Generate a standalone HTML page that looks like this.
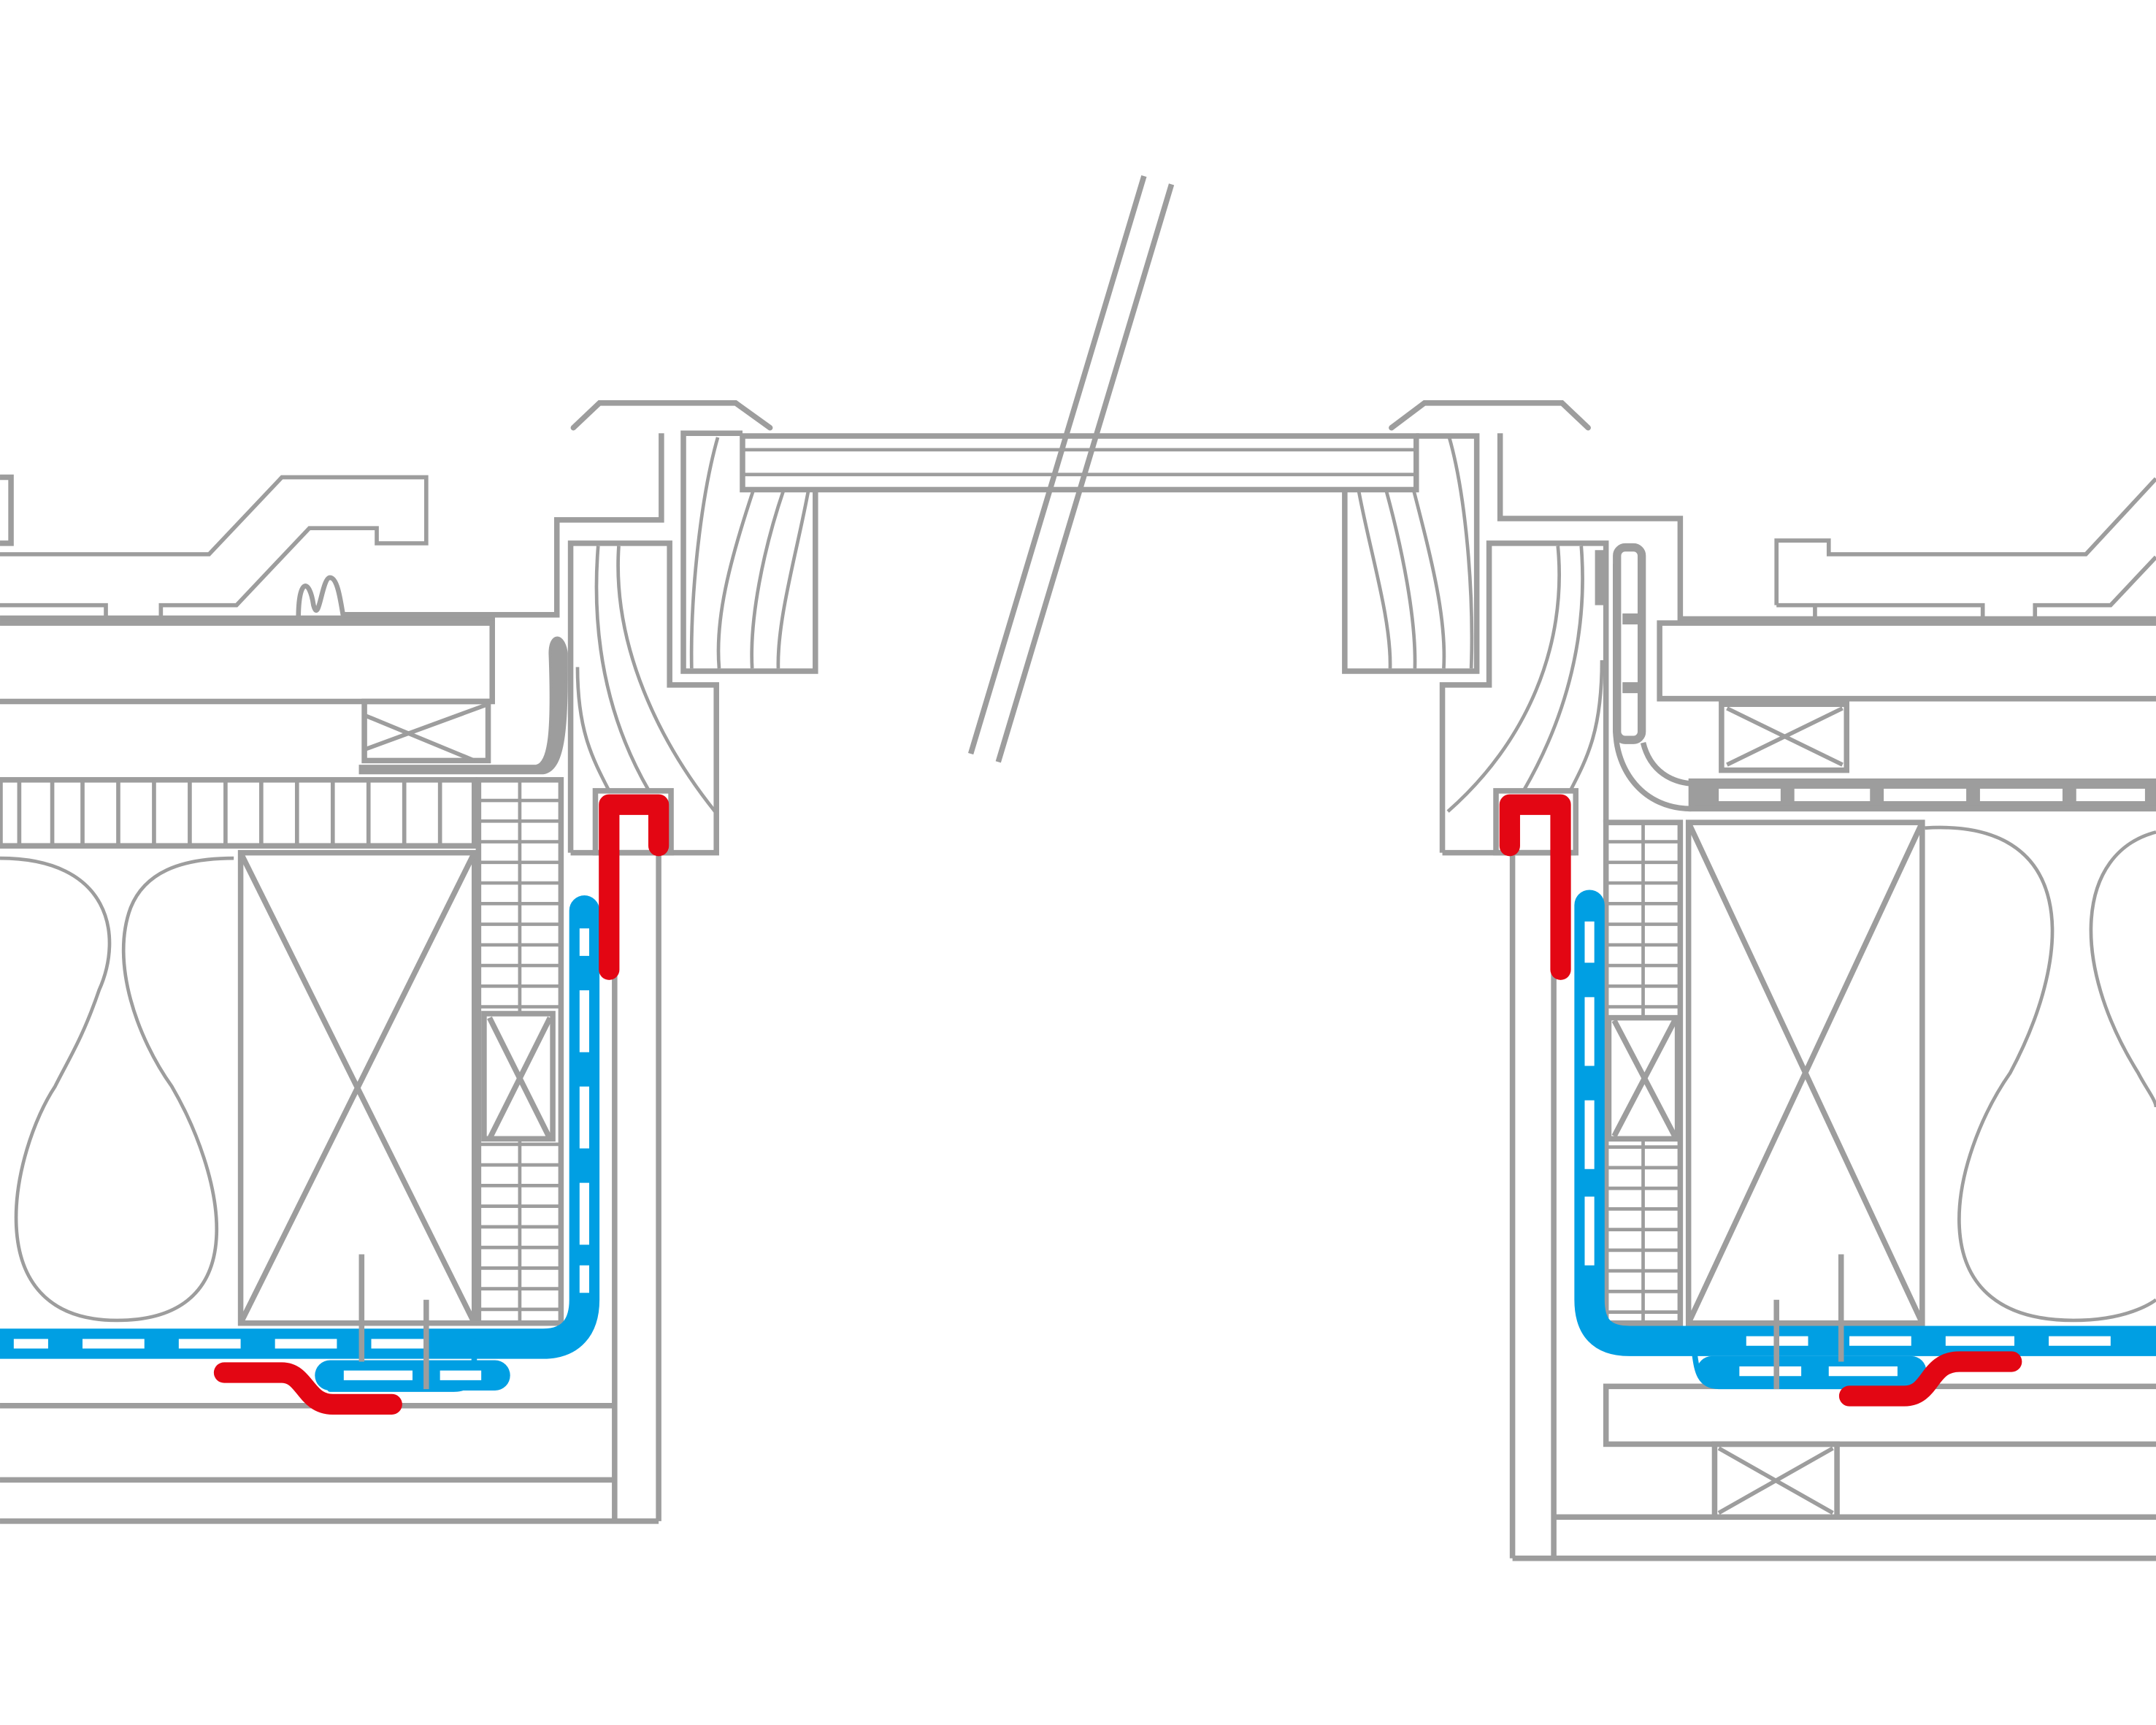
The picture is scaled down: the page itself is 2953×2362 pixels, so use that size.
<!DOCTYPE html>
<html><head><meta charset="utf-8"><style>html,body{margin:0;padding:0;background:#fff}svg{display:block}</style></head>
<body>
<svg width="2953" height="2362" viewBox="0 0 1568 1254.2" xmlns="http://www.w3.org/2000/svg">
<g fill="none" stroke="#9d9d9d" stroke-width="4" stroke-linejoin="miter">
<line x1="832" y1="128" x2="706" y2="548"/><line x1="852" y1="134" x2="726" y2="554"/>
<polyline points="417,311 436,293 535,293 560,311" stroke-linecap="round"/>
<polyline points="1012,311 1036,293 1136,293 1155,311" stroke-linecap="round"/>
<rect x="540" y="317" width="490" height="39"/>
<line x1="540" y1="327" x2="1030" y2="327" stroke-width="2.5"/><line x1="540" y1="345" x2="1030" y2="345" stroke-width="2.5"/>
<polyline points="540,315 497,315 497,488 593,488 593,356"/>
<g stroke-width="2.5"><path d="M522,318 C510,360 502,430 503,486"/><path d="M548,356 C530,410 520,450 523,486"/><path d="M570,356 C555,400 545,450 547,486"/><path d="M588,356 C580,400 565,450 566,486"/></g>
<polyline points="1030,317 1074,317 1074,488 978,488 978,356"/>
<g stroke-width="2.5"><path d="M1054,318 C1066,360 1072,430 1070,486"/><path d="M1028,356 C1042,410 1052,450 1050,486"/><path d="M1008,356 C1020,400 1030,450 1029,486"/><path d="M988,356 C996,400 1012,450 1011,486"/></g>
<polyline points="0,347 8,347 8,395 0,395"/>
<polyline points="0,403 152,403 205,347 310,347 310,395 274,395 274,384 225,384 172,440 117,440 117,450" stroke-width="3"/>
<polyline points="0,440 77,440 77,450" stroke-width="3"/>
<path d="M217,450 C217,420 225,420 228,440 C232,455 234,420 240,420 C246,420 248,440 250,450" stroke-width="3.5"/>
<line x1="0" y1="450" x2="360" y2="450" stroke-width="5"/>
<polyline points="0,453 358,453 358,510 0,510"/>
<polyline points="250,447 405,447 405,378 481,378 481,315"/>
<rect x="265" y="510" width="90" height="43"/><polyline points="265,545 355,512" stroke-width="3"/><polyline points="265,520 345,553" stroke-width="3"/>
<path d="M262,557 L390,557 C400,555 402,530 400,475 C400,460 410,460 412,475 L412,485 C412,530 410,560 395,562 L262,562 Z" fill="#9d9d9d" stroke-width="2"/>
<rect x="0" y="567" width="345" height="48"/>
<g stroke-width="3"><line x1="14" y1="567" x2="14" y2="615"/><line x1="38" y1="567" x2="38" y2="615"/><line x1="60" y1="567" x2="60" y2="615"/><line x1="86" y1="567" x2="86" y2="615"/><line x1="112" y1="567" x2="112" y2="615"/><line x1="138" y1="567" x2="138" y2="615"/><line x1="164" y1="567" x2="164" y2="615"/><line x1="190" y1="567" x2="190" y2="615"/><line x1="216" y1="567" x2="216" y2="615"/><line x1="242" y1="567" x2="242" y2="615"/><line x1="268" y1="567" x2="268" y2="615"/><line x1="294" y1="567" x2="294" y2="615"/><line x1="320" y1="567" x2="320" y2="615"/></g>
<rect x="175" y="620" width="170" height="342"/>
<line x1="175" y1="962" x2="345" y2="620"/><line x1="175" y1="620" x2="345" y2="962"/>
<path stroke-width="2.5" d="M0,624 C80,624 90,680 72,720 C60,755 50,770 40,790 C10,835 -20,960 85,960 C190,960 160,850 125,790 C100,755 80,700 95,660 C105,635 130,624 170,624"/>
<rect x="348" y="567" width="60" height="395"/>
<line x1="378" y1="567" x2="378" y2="962" stroke-width="2.5"/>
<path stroke-width="2.5" d="M348,582H408M348,597H408M348,612H408M348,627H408M348,642H408M348,657H408M348,672H408M348,687H408M348,702H408M348,717H408M348,732H408M348,832H408M348,847H408M348,862H408M348,877H408M348,892H408M348,907H408M348,922H408M348,937H408M348,952H408"/>
<rect x="352" y="737" width="50" height="91" fill="#fff"/><line x1="356" y1="828" x2="400" y2="740"/><line x1="356" y1="740" x2="400" y2="828"/>
<polyline points="415,620 415,395 487,395 487,498 521,498 521,620 415,620"/>
<g stroke-width="2.5"><path d="M435,397 C430,460 440,520 472,575"/><path d="M450,397 C445,470 480,540 520,590"/><path d="M420,485 C420,530 430,550 443,575"/></g>
<rect x="433" y="575" width="55" height="45"/>
<line x1="447" y1="620" x2="447" y2="1106"/><line x1="479" y1="600" x2="479" y2="1106"/>
<line x1="0" y1="1022" x2="447" y2="1022"/><line x1="0" y1="1076" x2="447" y2="1076"/><line x1="0" y1="1106" x2="479" y2="1106"/>
<polyline points="1292,440 1292,393 1330,393 1330,403 1517,403 1568,348" stroke-width="3"/>
<polyline points="1292,440 1442,440 1442,450" stroke-width="3"/><polyline points="1320,440 1320,450" stroke-width="3"/>
<polyline points="1480,450 1480,440 1535,440 1568,405" stroke-width="3"/>
<polyline points="1091,315 1091,377 1222,377 1222,450 1568,450"/>
<polyline points="1568,453 1207,453 1207,508 1568,508"/>
<rect x="1252" y="512" width="91" height="48"/><line x1="1256" y1="556" x2="1340" y2="515" stroke-width="3"/><line x1="1256" y1="515" x2="1340" y2="556" stroke-width="3"/>
<rect x="1230" y="568" width="340" height="20" fill="#9d9d9d"/>
<path d="M1250,578H1295M1305,578H1360M1370,578H1430M1440,578H1500M1510,578H1560" stroke="#fff" stroke-width="9"/>
<path d="M1175,410 L1175,530 C1175,560 1195,588 1230,588" stroke-width="4"/>
<rect x="1176" y="398" width="18" height="140" rx="6" stroke-width="6"/>
<line x1="1180" y1="450" x2="1192" y2="450" stroke-width="8"/><line x1="1180" y1="500" x2="1192" y2="500" stroke-width="8"/>
<path d="M1195,540 C1200,560 1215,570 1235,570" stroke-width="4"/>
<line x1="1164" y1="400" x2="1164" y2="440" stroke-width="8"/>
<polyline points="1049,620 1049,498 1083,498 1083,395 1168,395 1168,598"/>
<line x1="1049" y1="620" x2="1146" y2="620"/>
<g stroke-width="2.5"><path d="M1133,397 C1140,470 1110,540 1053,590"/><path d="M1150,397 C1155,460 1140,520 1108,575"/><path d="M1165,480 C1165,530 1155,550 1142,575"/></g>
<rect x="1088" y="575" width="58" height="45"/>
<rect x="1168" y="598" width="54" height="364"/>
<line x1="1195" y1="598" x2="1195" y2="962" stroke-width="2.5"/>
<path stroke-width="2.5" d="M1168,612H1222M1168,627H1222M1168,642H1222M1168,657H1222M1168,672H1222M1168,687H1222M1168,702H1222M1168,717H1222M1168,732H1222M1168,834H1222M1168,849H1222M1168,864H1222M1168,879H1222M1168,894H1222M1168,909H1222M1168,924H1222M1168,939H1222M1168,954H1222"/>
<rect x="1170" y="740" width="50" height="88" fill="#fff"/><line x1="1174" y1="826" x2="1218" y2="742"/><line x1="1174" y1="742" x2="1218" y2="826"/>
<rect x="1228" y="598" width="170" height="364"/>
<line x1="1228" y1="598" x2="1398" y2="962"/><line x1="1398" y1="598" x2="1228" y2="962"/>
<path stroke-width="2.5" d="M1400,602 C1510,595 1510,690 1462,780 C1420,840 1390,960 1508,960 C1550,960 1568,945 1568,945"/>
<path stroke-width="2.5" d="M1568,605 C1510,620 1505,700 1555,780 C1560,790 1568,800 1568,805"/>
<line x1="1100" y1="600" x2="1100" y2="1133"/><line x1="1130" y1="620" x2="1130" y2="1133"/>
<rect x="1168" y="1008" width="402" height="42"/>
<rect x="1247" y="1050" width="89" height="53"/><line x1="1250" y1="1100" x2="1333" y2="1053" stroke-width="3"/><line x1="1250" y1="1053" x2="1333" y2="1100" stroke-width="3"/>
<line x1="1130" y1="1103" x2="1568" y2="1103"/><line x1="1100" y1="1133" x2="1568" y2="1133"/>
</g>
<g fill="none" stroke="#009fe3" stroke-linecap="round">
<path d="M425,662 L425,945 C425,965 415,977 395,977 L0,977" stroke-width="22"/>
<path d="M240,1000 L360,1000" stroke-width="22"/>
<path d="M345,975 C345,1000 345,1010 330,1010 L240,1010" stroke-width="4"/>
<path d="M1156,658 L1156,945 C1156,965 1165,975 1185,975 L1568,975" stroke-width="22"/>
<path d="M1245,997 L1390,997" stroke-width="22"/>
<path d="M1230,975 C1235,985 1230,1008 1250,1008 L1390,1008" stroke-width="4"/>
</g>
<g fill="none" stroke="#fff" stroke-width="7">
<path d="M425,675 V695 M425,720 V765 M425,790 V835 M425,860 V905 M425,920 V940"/>
<path d="M10,977 H35 M60,977 H105 M130,977 H175 M200,977 H245 M270,977 H310"/>
<path d="M250,1000 H300 M320,1000 H350"/>
<path d="M1156,670 V700 M1156,725 V775 M1156,800 V850 M1156,870 V920"/>
<path d="M1270,975 H1315 M1345,975 H1390 M1415,975 H1465 M1490,975 H1535"/>
<path d="M1265,997 H1310 M1330,997 H1380"/>
</g>
<g stroke="#9d9d9d" stroke-width="4"><line x1="263" y1="912" x2="263" y2="990"/><line x1="310" y1="945" x2="310" y2="1010"/><line x1="1292" y1="945" x2="1292" y2="1010"/><line x1="1339" y1="912" x2="1339" y2="990"/></g>
<g fill="none" stroke="#e30613" stroke-width="15" stroke-linecap="round" stroke-linejoin="round">
<polyline points="443,705 443,585 479,585 479,615"/>
<path d="M163,998 L205,998 C222,998 222,1021 242,1021 L285,1021"/>
<polyline points="1098,615 1098,585 1135,585 1135,705"/>
<path d="M1345,1015 L1385,1015 C1405,1015 1402,990 1425,990 L1463,990"/>
</g>
</svg>
</body></html>
